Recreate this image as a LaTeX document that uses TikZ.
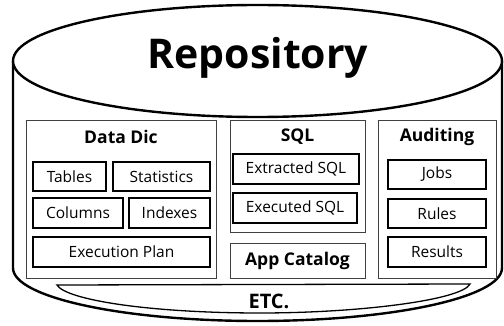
\documentclass[tikz,border=0pt]{standalone}
\usepackage{fontspec}
\usetikzlibrary{shapes.geometric}
\setmainfont{Open Sans}
\begin{document}
\begin{tikzpicture}[x=1pt,y=-1pt,
  outerbox/.style={draw=black!75,line width=0.9pt,fill=white},
  itembox/.style={draw=black,line width=1.2pt,fill=white,inner sep=0pt,font=\fontsize{15.5}{18}\selectfont},
  titletext/.style={font=\bfseries\fontsize{17.5}{20}\selectfont},
  cyl/.style={draw=black,line width=2.4pt,line join=round}]
\useasboundingbox (0,0) rectangle (504,326);
% cylinder body
\path[cyl,fill=white] (13,61) -- (13,268) arc[start angle=180,end angle=0,x radius=244.5,y radius=53] -- (502,61);
\node[cyl,fill=white,ellipse,minimum width=489pt,minimum height=112pt,inner sep=0pt] (top) at (257.5,61) {};
\node[font=\bfseries\fontsize{41}{48}\selectfont] (repo) at (258,58) {Repository};
% ETC plate
\draw[line width=1.3pt,fill=white] (57,285) -- (470,284) .. controls (462,300) and (360,313) .. (260,313) .. controls (150,313) and (66,300) .. (57,285) -- cycle;
\node[font=\bfseries\fontsize{20}{24}\selectfont] (etc) at (269,301) {ETC.};
% Data Dic
\path[outerbox] (26,120) rectangle (216,278);
\node[titletext] (dd) at (121,137) {Data Dic};
\node[itembox,minimum width=73pt,minimum height=29pt] (tables) at (69.5,176.5) {Tables};
\node[itembox,minimum width=97pt,minimum height=29pt] (stats) at (161.5,176.5) {Statistics};
\node[itembox,minimum width=90pt,minimum height=30pt] (cols) at (78,213) {Columns};
\node[itembox,minimum width=81pt,minimum height=30pt] (idx) at (169.5,213) {Indexes};
\node[itembox,minimum width=177pt,minimum height=30pt] (plan) at (121.5,252) {Execution Plan};
% SQL
\path[outerbox] (230,120) rectangle (365,232);
\node[titletext] (sql) at (297.5,137) {SQL};
\node[itembox,minimum width=126pt,minimum height=30pt] (ext) at (296,169) {Extracted SQL};
\node[itembox,minimum width=124pt,minimum height=30pt] (exe) at (295,208) {Executed SQL};
\node[outerbox,minimum width=135pt,minimum height=35pt,inner sep=0pt,titletext] (app) at (297.5,260.5) {App Catalog};
% Auditing
\path[outerbox] (378,120) rectangle (496,278);
\node[titletext] (aud) at (437,137) {Auditing};
\node[itembox,minimum width=98pt,minimum height=29pt] (jobs) at (437,174.5) {Jobs};
\node[itembox,minimum width=98pt,minimum height=29pt] (rules) at (437,213.5) {Rules};
\node[itembox,minimum width=98pt,minimum height=30pt] (res) at (437,252) {Results};
\end{tikzpicture}
\end{document}
